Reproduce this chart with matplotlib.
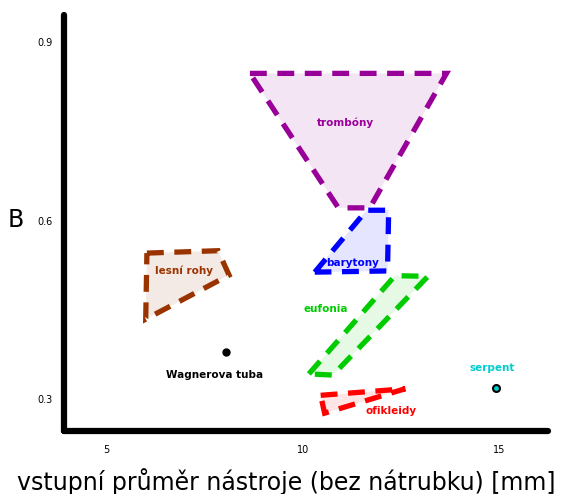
import matplotlib
matplotlib.use("Agg")
import matplotlib.pyplot as plt
from matplotlib.patches import Polygon

# instrument regions (bore diameter [mm], B)
trombony_x = [8.65, 13.65, 11.7, 10.9]
trombony_y = [0.848, 0.848, 0.622, 0.622]
barytony_x = [10.3, 11.62, 12.18, 12.15]
barytony_y = [0.514, 0.618, 0.618, 0.516]
eufonia_x = [10.15, 12.34, 13.18, 10.76]
eufonia_y = [0.343, 0.508, 0.507, 0.341]
ofikleidy_x = [10.45, 12.6, 10.55]
ofikleidy_y = [0.307, 0.318, 0.277]
lesni_x = [6.03, 7.84, 8.12, 6.0]
lesni_y = [0.546, 0.55, 0.509, 0.435]

wagner_x, wagner_y = 8.04, 0.38
serpent_x, serpent_y = 14.91, 0.319

regions = [
    (trombony_x, trombony_y, "#990099", "trombóny", (11.07, 0.765)),
    (barytony_x, barytony_y, "#0000ff", "barytony", (11.25, 0.529)),
    (eufonia_x, eufonia_y, "#00cc00", "eufonia", (10.59, 0.452)),
    (ofikleidy_x, ofikleidy_y, "#ff0000", "ofikleidy", (12.24, 0.281)),
    (lesni_x, lesni_y, "#993300", "lesní rohy", (6.97, 0.516)),
]

fig = plt.figure(figsize=(5.66, 4.94), dpi=100)
ax = fig.add_axes([0.113, 0.1275, 0.855, 0.842])

for xs, ys, col, name, pos in regions:
    pts = list(zip(xs, ys))
    ax.add_patch(Polygon(pts, closed=True, facecolor=col, alpha=0.1, edgecolor="none"))
    ax.add_patch(Polygon(pts, closed=True, fill=False, edgecolor=col, linewidth=3.8,
                         linestyle=(0, (3.2, 2.0))))
    ax.text(pos[0], pos[1], name, color=col, fontsize=7.5, fontweight="bold",
            ha="center", va="center")

ax.plot([wagner_x], [wagner_y], "o", color="black", markersize=5)
ax.text(7.76, 0.341, "Wagnerova tuba", fontsize=7.5, fontweight="bold",
        ha="center", va="center")

ax.plot([serpent_x], [serpent_y], "o", color="#00cccc", markersize=5,
        markeredgecolor="black", markeredgewidth=1.5)
ax.text(14.81, 0.353, "serpent", color="#00cccc", fontsize=7.5, fontweight="bold",
        ha="center", va="center")

ax.set_xlim(3.92, 16.23)
ax.set_ylim(0.247, 0.946)
ax.set_xticks([5, 10, 15])
ax.set_yticks([0.3, 0.6, 0.9])
ax.tick_params(length=0, labelsize=7, pad=10)
ax.tick_params(axis="y", pad=8)

for s in ["top", "right"]:
    ax.spines[s].set_visible(False)
for s in ["left", "bottom"]:
    ax.spines[s].set_linewidth(4.5)
    ax.spines[s].set_capstyle("round")

ax.set_ylabel("B", fontsize=17, rotation=0, va="center")
ax.yaxis.set_label_coords(-0.1, 0.508)
ax.set_xlabel("vstupní průměr nástroje (bez nátrubku) [mm]", fontsize=17)
ax.xaxis.set_label_coords(0.46, -0.088)

fig.savefig("out.png", dpi=100)
